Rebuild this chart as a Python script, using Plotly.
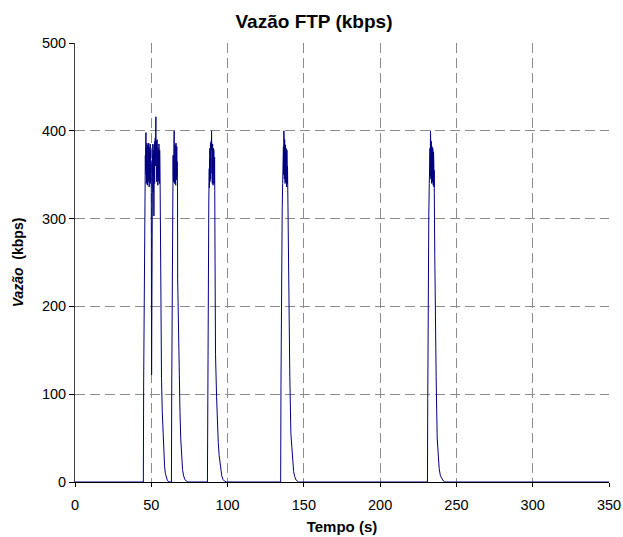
import plotly.graph_objects as go

# ---- data (time in s, throughput in kbps) ----
t_b1 = [44.8, 45.0, 45.3, 45.5, 45.7, 45.9, 46.0,
        46.1, 46.2, 46.3, 46.4, 46.5, 46.6, 46.7, 46.8, 46.9, 47.0,
        47.1, 47.2, 47.3, 47.4, 47.5, 47.6, 47.7, 47.8, 47.9, 48.0,
        48.1, 48.2, 48.3, 48.4, 48.5, 48.6, 48.7, 48.8, 48.9, 49.0,
        49.1, 49.2, 49.3, 49.4, 49.5, 49.6, 49.7, 49.8, 49.9, 50.0,
        50.2, 50.4, 50.6,
        50.7, 50.8, 50.9, 51.0, 51.1, 51.2, 51.3, 51.4, 51.5, 51.6,
        51.7, 51.8, 51.9, 52.0, 52.1, 52.2, 52.3, 52.4, 52.5, 52.6,
        52.7, 52.8, 52.9, 53.0, 53.1, 53.2, 53.3, 53.4, 53.5, 53.6,
        53.7, 53.8, 53.9, 54.0, 54.1, 54.2, 54.3, 54.4, 54.5, 54.6,
        54.7, 54.8, 54.9, 55.0, 55.1, 55.2, 55.3, 55.4, 55.5, 55.6,
        55.7, 55.8,
        56.0, 56.3, 56.7, 57.2, 57.7, 58.2, 58.7, 59.2, 59.8, 60.5, 61.5]
v_b1 = [0, 115, 235, 270, 300, 312, 340,
        372, 355, 388, 362, 398, 350, 381, 340, 375, 358,
        386, 345, 370, 338, 365, 380, 352, 384, 360, 342,
        377, 355, 386, 348, 372, 336, 365, 381, 350, 376,
        345, 368, 385, 340, 362, 378, 344, 366, 350, 330,
        122, 300, 355,
        340, 372, 350, 385, 345, 368, 330, 362, 378, 352,
        303, 360, 384, 348, 370, 340, 388, 355, 375, 392,
        360, 380, 398, 416, 370, 388, 350, 375, 342, 383,
        360, 390, 348, 372, 355, 386, 338, 366, 380, 350,
        375, 343, 368, 385, 352, 370, 340, 362, 378, 345,
        360, 338,
        235, 175, 118, 80, 52, 32, 18, 10, 5, 2, 0]

t_b2 = [63.2, 63.4, 63.6, 63.8, 64.0,
        64.1, 64.2, 64.3, 64.4, 64.5, 64.6, 64.7, 64.8, 64.9, 65.0,
        65.1, 65.2, 65.3, 65.4, 65.5, 65.6, 65.7, 65.8, 65.9, 66.0,
        66.1, 66.2, 66.3, 66.4, 66.5, 66.6, 66.7, 66.8, 66.9, 67.0,
        67.1, 67.2,
        67.3, 67.8, 68.3, 68.8, 69.3, 69.9, 70.5, 71.2, 72.0, 73.0, 74.0]
v_b2 = [0, 105, 220, 300, 335,
        360, 345, 372, 350, 380, 342, 368, 385, 355, 400,
        362, 378, 340, 370, 352, 384, 345, 366, 380, 338,
        362, 386, 350, 372, 344, 368, 382, 348, 365, 340,
        358, 335,
        231, 170, 116, 80, 50, 28, 14, 7, 3, 1, 0]

t_b3 = [86.8, 86.9, 87.1, 87.3, 87.7, 88.0,
        88.1, 88.2, 88.3, 88.4, 88.5, 88.6, 88.7, 88.8, 88.9, 89.0,
        89.1, 89.2, 89.3, 89.4, 89.5, 89.6, 89.7, 89.8, 89.9, 90.0,
        90.1, 90.2, 90.3, 90.4, 90.5, 90.6, 90.7, 90.8, 90.9, 91.0,
        91.1, 91.2, 91.3, 91.4, 91.5, 91.6,
        91.8, 92.1, 92.8, 93.4, 93.9, 94.5, 95.0, 95.6, 96.2, 97.0, 98.0, 99.3]
v_b3 = [0, 55, 150, 250, 320, 357,
        335, 368, 350, 380, 342, 372, 360, 386, 345, 370,
        352, 388, 358, 378, 400, 355, 382, 348, 372, 340,
        365, 385, 350, 376, 338, 362, 380, 345, 368, 352,
        378, 340, 362, 348, 370, 332,
        250, 145, 97, 60, 45, 30, 22, 12, 7, 3, 1, 0]

t_b4 = [134.8, 135.0, 135.3, 135.8, 136.1,
        136.2, 136.3, 136.4, 136.5, 136.6, 136.7, 136.8, 136.9, 137.0,
        137.1, 137.2, 137.3, 137.4, 137.5, 137.6, 137.7, 137.8, 137.9, 138.0,
        138.1, 138.2, 138.3, 138.4, 138.5, 138.6, 138.7, 138.8, 138.9, 139.0,
        139.1, 139.2, 139.3, 139.4, 139.5, 139.6,
        139.8, 140.2, 140.8, 141.5, 142.0, 142.6, 143.3, 144.0, 145.0, 146.5]
v_b4 = [0, 110, 260, 310, 340,
        365, 348, 375, 355, 382, 350, 378, 400, 356,
        385, 345, 370, 390, 352, 375, 340, 368, 384, 350,
        372, 342, 366, 380, 348, 370, 336, 362, 378, 345,
        365, 340, 360, 338, 355, 332,
        240, 200, 120, 55, 40, 25, 12, 6, 2, 0]

t_b5 = [231.0, 231.2, 231.5, 231.9, 232.2,
        232.3, 232.4, 232.5, 232.6, 232.7, 232.8, 232.9, 233.0, 233.1,
        233.2, 233.3, 233.4, 233.5, 233.6, 233.7, 233.8, 233.9, 234.0, 234.1,
        234.2, 234.3, 234.4, 234.5, 234.6, 234.7, 234.8, 234.9, 235.0, 235.1,
        235.2, 235.3, 235.4, 235.5,
        235.8, 236.1, 236.7, 237.4, 238.0, 238.7, 239.5, 240.5, 241.5, 242.5]
v_b5 = [0, 95, 250, 305, 340,
        360, 345, 372, 352, 380, 348, 375, 400, 358,
        384, 345, 370, 388, 350, 374, 340, 366, 382, 348,
        370, 342, 365, 380, 346, 368, 338, 360, 376, 344,
        362, 336, 355, 330,
        260, 190, 120, 50, 30, 15, 7, 3, 1, 0]

t_start, t_end = [0.0], [350.0]
v_start, v_end = [0], [0]

x_ticks = [0, 50, 100, 150, 200, 250, 300, 350]
y_ticks = [0, 100, 200, 300, 400, 500]

time = t_start + t_b1 + t_b2 + t_b3 + t_b4 + t_b5 + t_end
rate = v_start + v_b1 + v_b2 + v_b3 + v_b4 + v_b5 + v_end

FONT = "Liberation Sans, Arial, sans-serif"

fig = go.Figure()
fig.add_trace(go.Scatter(
    x=time, y=rate, mode="lines",
    line=dict(color="#000080", width=1),
    hoverinfo="skip", showlegend=False,
))

fig.update_layout(
    width=623, height=537, autosize=False,
    margin=dict(l=75, r=14, t=43, b=55),
    paper_bgcolor="white", plot_bgcolor="white",
    font=dict(family=FONT, size=14, color="black"),
    title=dict(text="<b>Vazão FTP (kbps)</b>", x=0.504, xref="container",
               xanchor="center", y=0.961, yref="container", yanchor="middle",
               font=dict(family=FONT, size=19, color="black")),
)
fig.update_xaxes(
    range=[0, 350], tickvals=x_ticks, ticktext=[str(v) for v in x_ticks],
    showgrid=True, gridcolor="#8c8c8c", gridwidth=1, griddash="10px,5px",
    showline=True, linecolor="black", linewidth=1,
    ticks="outside", ticklen=4, tickcolor="black", ticklabelstandoff=6,
    zeroline=False, layer="below traces", automargin=False,
    tickfont=dict(family=FONT, size=14.5, color="black"),
    title=dict(text="<b>Tempo (s)</b>", standoff=9,
               font=dict(family=FONT, size=15, color="black")),
)
fig.update_yaxes(
    range=[0, 500], tickvals=y_ticks, ticktext=[str(v) for v in y_ticks],
    showgrid=True, gridcolor="#8c8c8c", gridwidth=1, griddash="10px,5px",
    showline=True, linecolor="#404040", linewidth=1,
    ticks="outside", ticklen=5, tickcolor="black",
    zeroline=False, layer="below traces", automargin=False,
    tickfont=dict(family=FONT, size=14.5, color="black"),
    title=dict(text="<b><i>Vazão</i>  (kbps)</b>", standoff=14,
               font=dict(family=FONT, size=14, color="black")),
)

fig.write_html(
    "out.html",
    config={"displayModeBar": False},
    post_script="document.body.style.margin='0';document.body.style.overflow='hidden';",
)
